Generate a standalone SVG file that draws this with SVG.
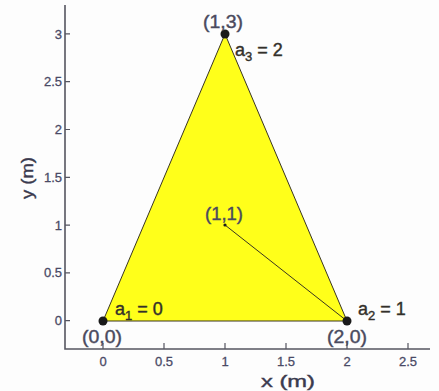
<svg xmlns="http://www.w3.org/2000/svg" width="439" height="391" viewBox="0 0 439 391">
<style>
.ax{stroke:#555560;stroke-width:1.6;fill:none}
.tk{stroke:#555560;stroke-width:1.2}
.tl{font-family:"Liberation Sans",Arial,sans-serif;font-size:13px;fill:#4a4a66;stroke:#4a4a66;stroke-width:0.3}
.lb{font-family:"Liberation Sans",Arial,sans-serif;font-size:18px;fill:#4a4a5e;stroke:#4a4a5e;stroke-width:0.4}
.al{font-family:"Liberation Sans",Arial,sans-serif;font-size:18px;fill:#33302a;stroke:#33302a;stroke-width:0.4}
.sub{font-size:13px}
.axl{font-family:"Liberation Sans",Arial,sans-serif;font-size:17px;fill:#3a3a4e;stroke:#3a3a4e;stroke-width:0.4}
</style>
<rect width="439" height="391" fill="#fdfdfd"/>
<g id="axes">
<path class="ax" d="M65,5 V349 H430"/>
<g class="tk">
<path d="M65,320.7h5M65,272.9h5M65,225.1h5M65,177.3h5M65,129.5h5M65,81.7h5M65,33.9h5"/>
<path d="M103,349v-6M164,349v-6M225,349v-6M286,349v-6M347,349v-6M408,349v-6"/>
</g>
<g class="tl" text-anchor="end">
<text x="62" y="325">0</text>
<text x="62" y="277">0.5</text>
<text x="62" y="229.5">1</text>
<text x="62" y="181.5">1.5</text>
<text x="62" y="134">2</text>
<text x="62" y="86">2.5</text>
<text x="62" y="38.5">3</text>
</g>
<g class="tl" text-anchor="middle">
<text x="103" y="366">0</text>
<text x="164" y="366">0.5</text>
<text x="225" y="366">1</text>
<text x="286" y="366">1.5</text>
<text x="347" y="366">2</text>
<text x="408" y="366">2.5</text>
</g>
<text class="axl" x="261" y="387" textLength="54" lengthAdjust="spacingAndGlyphs">x (m)</text>
<text class="axl" transform="translate(33,199) rotate(-90)" textLength="42" lengthAdjust="spacingAndGlyphs">y (m)</text>
</g>
<g id="triangle">
<polygon points="103,321 347,321 225,34" fill="#ffff1a" stroke="#3a3520" stroke-width="1"/>
</g>
<g id="connectors">
<line x1="225" y1="225" x2="347" y2="321" stroke="#3a3520" stroke-width="1"/>
</g>
<g id="n00">
<circle cx="103" cy="321" r="4.5" fill="#1a1a1a"/>
<text class="lb" x="82" y="343" textLength="40" lengthAdjust="spacingAndGlyphs">(0,0)</text>
<text class="al" x="115" y="315">a<tspan class="sub" dy="5">1</tspan><tspan dy="-5"> = 0</tspan></text>
</g>
<g id="n20">
<circle cx="347" cy="321" r="4.5" fill="#1a1a1a"/>
<text class="lb" x="327" y="343" textLength="40" lengthAdjust="spacingAndGlyphs">(2,0)</text>
<text class="al" x="358" y="315">a<tspan class="sub" dy="5">2</tspan><tspan dy="-5"> = 1</tspan></text>
</g>
<g id="n13">
<circle cx="225" cy="34" r="4.5" fill="#1a1a1a"/>
<text class="lb" x="203" y="28" textLength="40" lengthAdjust="spacingAndGlyphs">(1,3)</text>
<text class="al" x="235" y="56">a<tspan class="sub" dy="5">3</tspan><tspan dy="-5"> = 2</tspan></text>
</g>
<g id="n11">
<circle cx="225" cy="225" r="1.6" fill="#1a1a1a"/>
<text class="lb" x="205" y="220" textLength="38" lengthAdjust="spacingAndGlyphs">(1,1)</text>
</g>
</svg>
